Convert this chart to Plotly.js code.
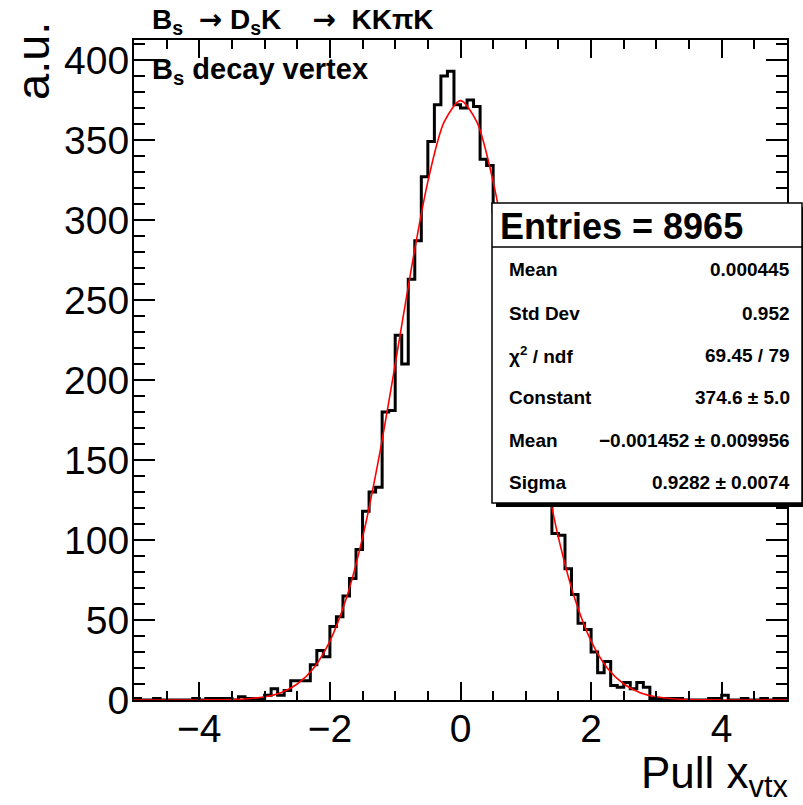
<!DOCTYPE html>
<html><head><meta charset="utf-8">
<script src="https://cdn.plot.ly/plotly-3.0.1.min.js"></script>
<style>html,body{margin:0;padding:0;background:#fff;}#chart{width:803px;height:805px;}</style>
</head><body><div id="chart"></div>
<script>
// ---- data ----
const binLow = -5;
const binWidth = 0.1;
const counts = [
  1,0,0,1,0,0,0,0,0,1, 0,1,1,1,1,0,2,1,1,1,
  3,7,3,6,12,12,12,22,31,27,
  46,52,65,76,94,118,130,133,180,181,
  228,210,263,287,327,349,372,390,393,372,
  370,375,371,338,334,305,290,272,243,224,
  196,177,149,128,104,103,82,66,48,44,
  30,17,24,9,8,11,7,11,8,1,
  1,1,1,1,0,0,0,0,1,1,
  3,0,0,1,0,0,1,0,1,1
];
const fitX = [-5,-4.5,-4,-3.75,-3.5,-3.25,-3,-2.75,-2.5,-2.25,-2,-1.75,-1.5,-1.25,-1,-0.75,-0.5,-0.25,0,0.25,0.5,0.75,1,1.25,1.5,1.75,2,2.25,2.5,2.75,3,3.25,3.5,3.75,4,4.5,5];
const fitY = [0,0,0.03,0.11,0.31,0.82,2.0,4.6,10,19.9,36.8,63.4,101.5,151.3,209.7,270.3,324,361.3,374.6,361.3,324,270.3,209.7,151.3,101.5,63.4,36.8,19.9,10,4.6,2.0,0.82,0.31,0.11,0.03,0,0];
const arrow = "<span style=\"font-family:DejaVu Sans\">→</span>";
const titleText = "<b>B<sub>s</sub>&nbsp;&nbsp;" + arrow + "&nbsp;D<sub>s</sub>K&nbsp;&nbsp;&nbsp;&nbsp;" + arrow + "&nbsp;&nbsp;KKπK</b>";
const labelText = "<b>B<sub>s</sub> decay vertex</b>";
const xTitle = "Pull x<sub>vtx</sub>";
const yTitle = "a.u.";
const entriesText = "<b>Entries = 8965</b>";
const statLabels = ["Mean","Std Dev","χ<sup>2</sup> / ndf","Constant","Mean","Sigma"];
const statValues = ["0.000445","0.952","69.45 / 79","374.6 ± 5.0","−0.001452 ± 0.009956","0.9282 ± 0.0074"];

// ---- build histogram outline ----
const hx = [], hy = [];
for (let i = 0; i < counts.length; i++) { hx.push(binLow + i*binWidth); hy.push(counts[i]); }
hx.push(binLow + counts.length*binWidth); hy.push(counts[counts.length-1]);

const L = 134, T = 40, W = 653, H = 660;
const px = x => (x - L) / W;
const py = y => (T + H - y) / H;

const axisFont = {family: "Liberation Sans, Arial, sans-serif", size: 39, color: "black"};
const boldFont = s => ({family: "Liberation Sans, Arial, sans-serif", size: s, color: "black"});

const traces = [
  {x: hx, y: hy, type: "scatter", mode: "lines", line: {shape: "hv", color: "black", width: 3}, hoverinfo: "skip"},
  {x: fitX, y: fitY, type: "scatter", mode: "lines", line: {shape: "spline", smoothing: 0.8, color: "#ff0000", width: 1.6}, hoverinfo: "skip"}
];

const rowsY = [269, 313, 355, 397, 440, 483];
const annotations = [
  {text: titleText, xref: "paper", yref: "paper", x: px(150), y: py(21), xanchor: "left", yanchor: "middle", showarrow: false, font: boldFont(28)},
  {text: labelText, xref: "paper", yref: "paper", x: px(150), y: py(71), xanchor: "left", yanchor: "middle", showarrow: false, font: boldFont(29)},
  {text: yTitle, xref: "paper", yref: "paper", x: px(32), y: py(20), xanchor: "center", yanchor: "top", textangle: -90, showarrow: false, font: Object.assign({}, axisFont, {size: 47})},
  {text: xTitle, xref: "paper", yref: "paper", x: px(791), y: py(806), xanchor: "right", yanchor: "bottom", showarrow: false, font: Object.assign({}, axisFont, {size: 44})},
  {text: entriesText, xref: "paper", yref: "paper", x: px(498), y: py(226), xanchor: "left", yanchor: "middle", showarrow: false, font: boldFont(36)}
];
for (let i = 0; i < statLabels.length; i++) {
  annotations.push({text: "<b>" + statLabels[i] + "</b>", xref: "paper", yref: "paper", x: px(507), y: py(rowsY[i]), xanchor: "left", yanchor: "middle", showarrow: false, font: boldFont(19)});
  annotations.push({text: "<b>" + statValues[i] + "</b>", xref: "paper", yref: "paper", x: px(792), y: py(rowsY[i]), xanchor: "right", yanchor: "middle", showarrow: false, font: boldFont(19)});
}

const shapes = [
  {type: "rect", xref: "paper", yref: "paper", x0: px(496), x1: px(807), y0: py(507), y1: py(207), fillcolor: "black", line: {width: 0}, layer: "above"},
  {type: "rect", xref: "paper", yref: "paper", x0: px(492), x1: px(802), y0: py(503), y1: py(203), fillcolor: "white", line: {color: "black", width: 1.5}, layer: "above"},
  {type: "line", xref: "paper", yref: "paper", x0: px(492), x1: px(802), y0: py(247), y1: py(247), line: {color: "black", width: 1.5}, layer: "above"}
];

const layout = {
  width: 803, height: 805,
  margin: {l: L, r: 803 - L - W, t: T, b: 805 - T - H},
  paper_bgcolor: "white", plot_bgcolor: "white",
  showlegend: false,
  xaxis: {range: [-5, 5], tick0: 0, dtick: 2, ticks: "inside", ticklen: 18, tickwidth: 2, tickcolor: "black",
          showline: true, linewidth: 2, linecolor: "black", mirror: "allticks", showgrid: false, zeroline: false,
          tickfont: axisFont, ticklabelstandoff: -7,
          minor: {tick0: 0, dtick: 0.5, ticks: "inside", ticklen: 9, tickwidth: 2, tickcolor: "black", showgrid: false}},
  yaxis: {range: [0, 412.5], tick0: 0, dtick: 50, ticks: "inside", ticklen: 21, tickwidth: 2, tickcolor: "black",
          showline: true, linewidth: 2, linecolor: "black", mirror: "allticks", showgrid: false, zeroline: false,
          tickfont: axisFont, ticklabelstandoff: -5,
          minor: {tick0: 0, dtick: 10, ticks: "inside", ticklen: 11, tickwidth: 2, tickcolor: "black", showgrid: false}},
  annotations: annotations,
  shapes: shapes
};

Plotly.newPlot("chart", traces, layout, {displayModeBar: false, staticPlot: true});
</script>
</body></html>
